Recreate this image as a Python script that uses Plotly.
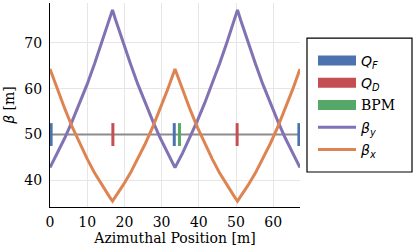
import plotly.graph_objects as go

s_pos = [0, 2, 4, 6, 8, 10, 12, 14, 16, 16.8, 17.6, 19.6, 21.6, 23.6, 25.6, 27.6, 29.6, 31.6, 33.6,
         35.6, 37.6, 39.6, 41.6, 43.6, 45.6, 47.6, 49.6, 50.4, 51.2, 53.2, 55.2, 57.2, 59.2, 61.2, 63.2, 65.2, 67.2]
beta_y = [42.8, 45.9, 49.3, 53.0, 56.9, 61.0, 65.5, 70.2, 75.1, 77.2, 75.1, 70.2, 65.5, 61.0, 56.9, 53.0, 49.3, 45.9, 42.8,
          45.9, 49.3, 53.0, 56.9, 61.0, 65.5, 70.2, 75.1, 77.2, 75.1, 70.2, 65.5, 61.0, 56.9, 53.0, 49.3, 45.9, 42.8]
beta_x = [64.3, 59.8, 55.6, 51.6, 48.0, 44.7, 41.6, 38.9, 36.4, 35.5, 36.4, 38.9, 41.6, 44.7, 48.0, 51.6, 55.6, 59.8, 64.3,
          59.8, 55.6, 51.6, 48.0, 44.7, 41.6, 38.9, 36.4, 35.5, 36.4, 38.9, 41.6, 44.7, 48.0, 51.6, 55.6, 59.8, 64.3]

qf_pos = [0.3, 33.4, 66.9]
qd_pos = [16.9, 50.3]
bpm_pos = [34.8]
ring_line = [0.3, 66.9]
ref_beta = 50
marker_half = 2.5

C_QF = "#4C72B0"
C_QD = "#C44E52"
C_BPM = "#55A868"
C_BY = "#8172B3"
C_BX = "#DD8452"

fig = go.Figure()

fig.add_trace(go.Scatter(x=ring_line, y=[ref_beta, ref_beta], mode="lines",
                         line=dict(color="#8c8c8c", width=2), showlegend=False, hoverinfo="skip"))


def element_segments(positions):
    xs, ys = [], []
    for p in positions:
        xs += [p, p, None]
        ys += [ref_beta - marker_half, ref_beta + marker_half, None]
    return xs, ys


for pos, col in [(qf_pos, C_QF), (qd_pos, C_QD), (bpm_pos, C_BPM)]:
    xs, ys = element_segments(pos)
    fig.add_trace(go.Scatter(x=xs, y=ys, mode="lines", line=dict(color=col, width=3),
                             showlegend=False, hoverinfo="skip"))

fig.add_trace(go.Scatter(x=s_pos, y=beta_y, mode="lines", line=dict(color=C_BY, width=3),
                         showlegend=False))
fig.add_trace(go.Scatter(x=s_pos, y=beta_x, mode="lines", line=dict(color=C_BX, width=3),
                         showlegend=False))

sans = "font-family:'DejaVu Sans'"
legend_items = [
    (f"<span style=\"{sans}\"><i>Q</i><sub><i>F</i></sub></span>", C_QF, 10),
    (f"<span style=\"{sans}\"><i>Q</i><sub><i>D</i></sub></span>", C_QD, 10),
    ("BPM", C_BPM, 10),
    (f"<span style=\"{sans}\"><i>β</i><sub><i>y</i></sub></span>", C_BY, 3),
    (f"<span style=\"{sans}\"><i>β</i><sub><i>x</i></sub></span>", C_BX, 3),
]
for i, (name, col, w) in enumerate(legend_items):
    fig.add_trace(go.Scatter(x=[None], y=[None], mode="lines", name=name, legendgroup=f"g{i}",
                             line=dict(color=col, width=w)))

# legend frame
fig.add_shape(type="rect", xref="paper", yref="paper", x0=1.028, x1=1.448, y0=0.1716, y1=0.828,
              line=dict(color="black", width=1.2), fillcolor="white", layer="below")

fig.update_layout(
    width=415, height=249,
    margin=dict(l=50, r=115, t=3, b=42, autoexpand=False),
    paper_bgcolor="white", plot_bgcolor="white",
    font=dict(family="'DejaVu Serif', 'Liberation Serif', serif", size=14, color="black"),
    legend=dict(x=1.028, y=0.794, xanchor="left", yanchor="top",
                borderwidth=0, bgcolor="rgba(0,0,0,0)",
                font=dict(size=14), tracegroupgap=1, indentation=6, itemwidth=38),
)
fig.update_xaxes(range=[0, 67.2], tickvals=[0, 10, 20, 30, 40, 50, 60],
                 showgrid=True, gridcolor="#e6e6e6", gridwidth=1,
                 showline=True, linecolor="black", linewidth=1.3, zeroline=False,
                 ticks="", ticklabelstandoff=2, automargin=False,
                 title=dict(text="Azimuthal Position [m]", standoff=4, font=dict(size=14)))
fig.update_yaxes(range=[34.2, 78.7], tickvals=[40, 50, 60, 70],
                 showgrid=True, gridcolor="#e6e6e6", gridwidth=1,
                 showline=True, linecolor="black", linewidth=1.3, zeroline=False,
                 ticks="", ticklabelstandoff=4, automargin=False,
                 title=dict(text="<span style=\"font-family:'DejaVu Sans'\"><i>β</i></span> [m]", standoff=6, font=dict(size=14)))

fig.write_html("out.html", config={"displayModeBar": False},
               post_script="document.body.style.margin='0';document.body.style.overflow='hidden';")
